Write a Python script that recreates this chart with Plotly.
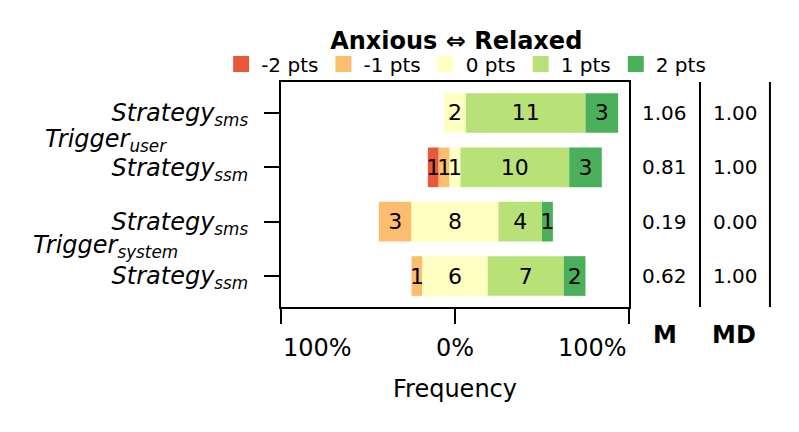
import numpy as np
import plotly.graph_objects as go

# -----------------------
# data
# -----------------------
rows = ['<i>Strategy<sub>sms</sub></i>', '<i>Strategy<sub>ssm</sub></i>',
        '<i>Strategy<sub>sms</sub></i>', '<i>Strategy<sub>ssm</sub></i>']
groups = ['<i>Trigger<sub>user</sub></i>', '<i>Trigger<sub>system</sub></i>']
levels = ['-2 pts', '-1 pts', '0 pts', '1 pts', '2 pts']
colors = ['#e8583a', '#fdbd6e', '#ffffc2', '#b8e177', '#4bb05c']

neg2 = [0, 1, 0, 0]
neg1 = [0, 1, 3, 1]
zero = [2, 1, 8, 6]
pos1 = [11, 10, 4, 7]
pos2 = [3, 3, 1, 2]

mean_vals = ['1.06', '0.81', '0.19', '0.62']
median_vals = ['1.00', '1.00', '0.00', '1.00']

xtick_vals = [-100, 0, 100]
xtick_text = ['100%', '0%', '100%']

# -----------------------
# diverging stacked bars (centered on middle of neutral)
# -----------------------
counts = np.array([neg2, neg1, zero, pos1, pos2], dtype=float)
totals = counts.sum(axis=0)
pct = counts / totals * 100
left = -(pct[0] + pct[1] + pct[2] / 2)
ypos = list(range(len(rows)))

fig = go.Figure()
for i, lvl in enumerate(levels):
    nz = counts[i] > 0
    fig.add_trace(go.Bar(
        y=np.array(ypos)[nz], x=pct[i][nz], base=left[nz], orientation='h', name=lvl,
        marker=dict(color=colors[i], line=dict(width=0)), width=0.73,
        text=[str(int(c)) for c in counts[i][nz]],
        textposition='inside', insidetextanchor='middle', textangle=0,
        textfont=dict(size=22, color='black'), hoverinfo='skip', showlegend=False))
    left = left + pct[i]
    # legend-only entry (bigger square)
    fig.add_trace(go.Bar(
        y=[None], x=[None], orientation='h', name=lvl,
        marker=dict(color=colors[i], line=dict(color=colors[i], width=4))))

FONT = 'DejaVu Sans'
ann = []
# x tick labels (outer ones aligned inward)
for v, t in zip(xtick_vals, xtick_text):
    anchor = 'left' if v < 0 else ('right' if v > 0 else 'center')
    ann.append(dict(x=v, y=-0.18, xref='x', yref='paper', text=t, showarrow=False,
                    xanchor=anchor, yanchor='middle', font=dict(size=24)))
ann.append(dict(x=0, y=-0.365, xref='x', yref='paper', text='Frequency', showarrow=False,
                xanchor='center', yanchor='middle', font=dict(size=24)))
# group labels
for g, yv in zip(groups, [0.5, 2.45]):
    ann.append(dict(x=-0.503, y=yv, xref='paper', yref='y', text=g, showarrow=False,
                    xanchor='center', yanchor='middle', font=dict(size=24)))
# M / MD columns
for yv, m, md in zip(ypos, mean_vals, median_vals):
    ann.append(dict(x=1.103, y=yv, xref='paper', yref='y', text=m, showarrow=False,
                    xanchor='center', yanchor='middle', font=dict(size=20)))
    ann.append(dict(x=1.305, y=yv, xref='paper', yref='y', text=md, showarrow=False,
                    xanchor='center', yanchor='middle', font=dict(size=20)))
ann.append(dict(x=1.103, y=-0.124, xref='paper', yref='paper', text='<b>M</b>', showarrow=False,
                xanchor='center', yanchor='middle', font=dict(size=24)))
ann.append(dict(x=1.302, y=-0.124, xref='paper', yref='paper', text='<b>MD</b>', showarrow=False,
                xanchor='center', yanchor='middle', font=dict(size=24)))

shapes = [dict(type='line', xref='paper', yref='paper', x0=xx, x1=xx, y0=0, y1=1,
               line=dict(color='black', width=2)) for xx in (1.204, 1.405)]

fig.update_layout(
    width=799, height=432,
    margin=dict(l=281, r=170, t=82, b=125, autoexpand=False),
    plot_bgcolor='white', paper_bgcolor='white',
    font=dict(family=FONT, size=24, color='black'),
    barmode='overlay',
    uniformtext=dict(minsize=22, mode='show'),
    title=dict(text='<b>Anxious ⇔ Relaxed</b>', x=0.571, xanchor='center',
               y=0.905, yanchor='middle', font=dict(size=24)),
    legend=dict(orientation='h', x=-0.172, xanchor='left', y=1.08, yanchor='middle',
                font=dict(size=20), bgcolor='rgba(0,0,0,0)', traceorder='normal'),
    annotations=ann, shapes=shapes,
)
fig.update_xaxes(range=[-100, 100], tickvals=xtick_vals, showticklabels=False,
                 ticks='outside', ticklen=15, tickwidth=2, tickcolor='black',
                 showline=True, linewidth=2, linecolor='black', mirror=True,
                 showgrid=False, zeroline=False)
fig.update_yaxes(range=[3.57, -0.57], tickvals=ypos, ticktext=rows,
                 ticks='outside', ticklen=15, tickwidth=2, tickcolor='black',
                 ticklabelstandoff=11, tickfont=dict(size=24),
                 showline=True, linewidth=2, linecolor='black', mirror=True,
                 showgrid=False, zeroline=False)

fig.write_html("out.html", config={'displayModeBar': False},
               post_script="document.body.style.margin='0px';")
